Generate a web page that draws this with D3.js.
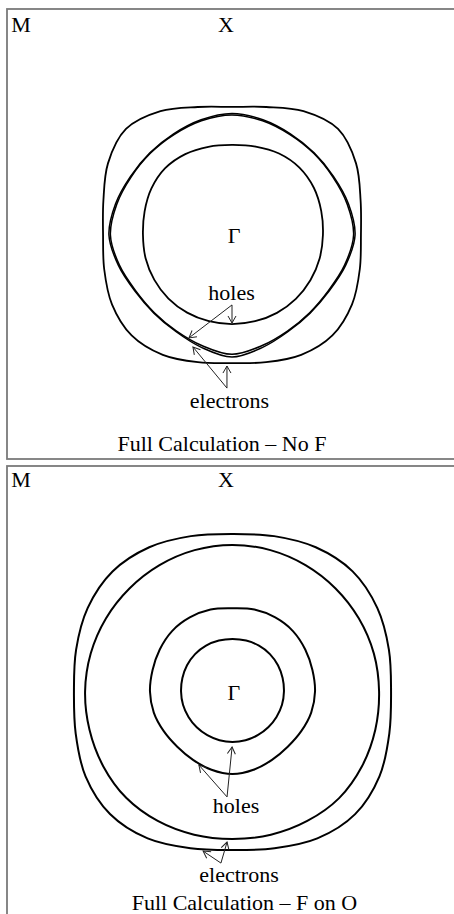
<!DOCTYPE html>
<html>
<head>
<meta charset="utf-8">
<script src="https://cdn.jsdelivr.net/npm/d3@7"></script>
<style>
body { margin: 0; background: #fff; }
</style>
</head>
<body>
<svg id="chart" width="454" height="914"></svg>
<script>
// angles (deg) where each Fermi surface radius was read, counter-clockwise from +kx
var angles = [0,15,30,45,60,75,90,105,120,135,150,165,180,195,210,225,240,255,270,285,300,315,330,345];

// radii in units of Gamma-X, panel 1 (no F)
var noF_outer = [0.614,0.634,0.682,0.714,0.681,0.631,0.610,0.631,0.681,0.714,0.682,0.634,
                 0.614,0.630,0.660,0.676,0.659,0.627,0.610,0.627,0.659,0.676,0.660,0.630];
var noF_elec  = [0.586,0.574,0.558,0.553,0.556,0.568,0.579,0.568,0.556,0.553,0.558,0.574,
                 0.586,0.560,0.534,0.526,0.532,0.555,0.581,0.555,0.532,0.526,0.534,0.560];
var noF_hole  = [0.579,0.568,0.554,0.550,0.552,0.563,0.572,0.563,0.552,0.550,0.554,0.568,
                 0.579,0.555,0.530,0.523,0.528,0.546,0.568,0.546,0.528,0.523,0.530,0.555];
var noF_inner = [0.433,0.440,0.450,0.454,0.448,0.436,0.429,0.435,0.445,0.450,0.443,0.431,
                 0.424,0.426,0.427,0.428,0.427,0.425,0.424,0.425,0.428,0.430,0.431,0.432];

// panel 2 (F on O)
var FO_outer  = [0.755,0.771,0.796,0.809,0.793,0.766,0.750,0.766,0.793,0.808,0.796,0.771,
                 0.755,0.773,0.808,0.825,0.808,0.773,0.755,0.773,0.808,0.826,0.808,0.773];
var FO_second = [0.698,0.697,0.695,0.694,0.695,0.697,0.698,0.697,0.695,0.694,0.696,0.699,
                 0.702,0.705,0.711,0.716,0.712,0.706,0.702,0.706,0.712,0.718,0.712,0.704];
var FO_third  = [0.393,0.394,0.400,0.407,0.407,0.404,0.396,0.404,0.407,0.407,0.400,0.394,
                 0.393,0.388,0.378,0.372,0.376,0.386,0.393,0.386,0.376,0.372,0.378,0.388];
var FO_inner  = [0.245,0.247,0.250,0.252,0.252,0.251,0.250,0.251,0.252,0.252,0.250,0.247,
                 0.245,0.244,0.242,0.241,0.240,0.240,0.240,0.240,0.240,0.241,0.242,0.244];

// labels: text, kx, ky
var noF_labels = [["M",-1.005,0.968],["X",-0.029,0.968],["\u0393",0.010,-0.038],
                  ["holes",-0.002,-0.310],["electrons",-0.012,-0.824],["Full Calculation \u2013 No F",-0.048,-1.029]];
var FO_labels  = [["M",-1.007,0.974],["X",-0.031,0.974],["\u0393",0.007,-0.040],
                  ["holes",0.017,-0.579],["electrons",0.031,-0.907],["Full Calculation \u2013 F on O",0.057,-1.040]];

// arrows: from [kx,ky] to [kx,ky]
var noF_arrows = [[[0,-0.333],[0,-0.419]],[[0,-0.333],[-0.205,-0.490]],
                  [[-0.024,-0.729],[-0.186,-0.533]],[[-0.024,-0.729],[-0.024,-0.624]]];
var FO_arrows  = [[[-0.026,-0.502],[-0.002,-0.264]],[[-0.026,-0.502],[-0.160,-0.350]],
                  [[-0.055,-0.817],[-0.026,-0.717]],[[-0.055,-0.817],[-0.140,-0.760]]];

var svg = d3.select("#chart");
var unit = 210;
var serif = "'Liberation Serif', 'Times New Roman', Times, 'DejaVu Serif', serif";

svg.append("defs").append("marker")
    .attr("id", "head")
    .attr("markerUnits", "userSpaceOnUse")
    .attr("markerWidth", 14).attr("markerHeight", 14)
    .attr("viewBox", "-8 -7 14 14")
    .attr("refX", 0).attr("refY", 0)
    .attr("orient", "auto")
  .append("path")
    .attr("d", "M-7,-4L0,0L-7,4")
    .attr("fill", "none")
    .attr("stroke", "#222")
    .attr("stroke-width", 1);

var panels = [
    {top: 9, height: 450, cx: 232, cy: 235, contours: [[noF_outer,1.8],[noF_elec,1.5],[noF_hole,1.5],[noF_inner,1.8]], labels: noF_labels, arrows: noF_arrows},
    {top: 466, height: 460, cx: 232.5, cy: 691.5, contours: [[FO_outer,2],[FO_second,2],[FO_third,2],[FO_inner,2]], labels: FO_labels, arrows: FO_arrows}
];

panels.forEach(function(p) {
    var x = d3.scaleLinear().domain([-1, 1]).range([p.cx - unit, p.cx + unit]);
    var y = d3.scaleLinear().domain([-1, 1]).range([p.cy + unit, p.cy - unit]);

    svg.append("rect")
        .attr("x", 7).attr("y", p.top)
        .attr("width", 500).attr("height", p.height)
        .attr("fill", "none")
        .attr("stroke", "#7a7a7a")
        .attr("stroke-width", 1.8);

    var line = d3.line()
        .x(function(d) { return x(d[0]); })
        .y(function(d) { return y(d[1]); })
        .curve(d3.curveCatmullRomClosed.alpha(0.5));

    p.contours.forEach(function(c) {
        var pts = c[0].map(function(r, i) {
            var a = angles[i] * Math.PI / 180;
            return [r * Math.cos(a), r * Math.sin(a)];
        });
        svg.append("path")
            .attr("d", line(pts))
            .attr("fill", "none")
            .attr("stroke", "#000")
            .attr("stroke-width", c[1]);
    });

    p.arrows.forEach(function(a) {
        svg.append("line")
            .attr("x1", x(a[0][0])).attr("y1", y(a[0][1]))
            .attr("x2", x(a[1][0])).attr("y2", y(a[1][1]))
            .attr("stroke", "#222")
            .attr("stroke-width", 1)
            .attr("marker-end", "url(#head)");
    });

    p.labels.forEach(function(l) {
        svg.append("text")
            .attr("x", x(l[1])).attr("y", y(l[2]))
            .attr("text-anchor", "middle")
            .attr("font-family", serif)
            .attr("font-size", 22)
            .attr("fill", "#000")
            .text(l[0]);
    });
});
</script>
</body>
</html>
